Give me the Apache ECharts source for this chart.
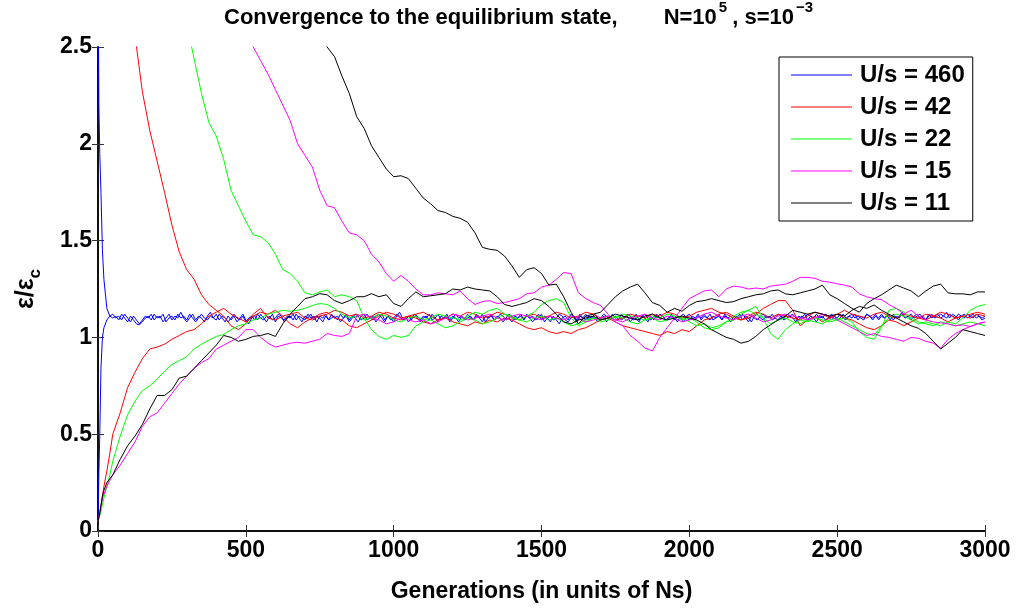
<!DOCTYPE html>
<html>
<head>
<meta charset="utf-8">
<script src="https://cdn.jsdelivr.net/npm/echarts@6/dist/echarts.min.js"></script>
<style>html,body{margin:0;padding:0;background:#fff}#c{width:1016px;height:608px}</style>
</head>
<body>
<div id="c"></div>
<script>
// generations (x values) for the red, green, magenta, black runs
const GENS_EARLY = [0, 3, 6, 10, 15, 20, 30, 40, 50];
const GENS_MAIN = [
  75,100,125,150,175,200,225,250,275,300,
  325,350,375,400,425,450,475,500,525,550,
  575,600,625,650,675,700,725,750,775,800,
  825,850,875,900,925,950,975,1000,1025,1050,
  1075,1100,1125,1150,1175,1200,1225,1250,1275,1300,
  1325,1350,1375,1400,1425,1450,1475,1500,1525,1550,
  1575,1600,1625,1650,1675,1700,1725,1750,1775,1800,
  1825,1850,1875,1900,1925,1950,1975,2000,2025,2050,
  2075,2100,2125,2150,2175,2200,2225,2250,2275,2300,
  2325,2350,2375,2400,2425,2450,2475,2500,2525,2550,
  2575,2600,2625,2650,2675,2700,2725,2750,2775,2800,
  2825,2850,2875,2900,2925,2950,2975,3000
];
const GENS = GENS_EARLY.concat(GENS_MAIN);

// generations for the blue (U/s = 460) runs: dense, every 10 after the start
const BLUE_GENS_EARLY = [0, 3, 6, 10, 15, 20, 30, 40];
const BLUE_GENS_STEP = 10;   // 50, 60, ... 3000
const BLUE_GENS = BLUE_GENS_EARLY.concat(Array.from({ length: 296 }, (_, i) => 50 + i * BLUE_GENS_STEP));

const X_TICKS = [0, 500, 1000, 1500, 2000, 2500, 3000];
const Y_TICKS = [0, 0.5, 1, 1.5, 2, 2.5];

const LEGEND_NAMES = ['U/s = 460', 'U/s = 42', 'U/s = 22', 'U/s = 15', 'U/s = 11'];

// U/s = 460 (blue), started above and below
const BLUE_HIGH = [
  3.0,2.2,1.95,1.75,1.45,1.30,1.15,1.11,
  1.10,1.11,1.09,1.12,1.10,1.08,1.11,1.09,1.07,1.065,
  1.08,1.10,1.11,1.09,1.12,1.10,1.11,1.08,1.10,1.12,
  1.09,1.11,1.10,1.13,1.10,1.08,1.10,1.12,1.09,1.11,
  1.10,1.08,1.11,1.13,1.10,1.09,1.12,1.10,1.08,1.11,
  1.09,1.11,1.08,1.10,1.12,1.09,1.07,1.10,1.11,1.09,
  1.12,1.10,1.08,1.11,1.09,1.10,1.12,1.11,1.08,1.10,
  1.11,1.09,1.12,1.10,1.08,1.11,1.10,1.12,1.09,1.11,
  1.10,1.08,1.11,1.09,1.12,1.10,1.11,1.08,1.10,1.12,
  1.09,1.11,1.10,1.08,1.11,1.12,1.09,1.10,1.11,1.08,
  1.10,1.12,1.09,1.11,1.10,1.08,1.11,1.13,1.10,1.09,
  1.11,1.09,1.12,1.10,1.08,1.10,1.11,1.09,1.12,1.10,
  1.08,1.11,1.10,1.12,1.09,1.11,1.10,1.08,1.11,1.09,
  1.12,1.10,1.09,1.11,1.10,1.12,1.08,1.10,1.11,1.09,
  1.10,1.12,1.11,1.09,1.10,1.08,1.11,1.10,1.12,1.09,
  1.11,1.10,1.08,1.10,1.12,1.09,1.11,1.10,1.08,1.11,
  1.09,1.07,1.10,1.11,1.09,1.12,1.10,1.08,1.11,1.10,
  1.12,1.09,1.11,1.10,1.08,1.10,1.12,1.11,1.09,1.10,
  1.11,1.09,1.12,1.10,1.11,1.08,1.10,1.12,1.09,1.11,
  1.10,1.08,1.11,1.09,1.12,1.10,1.11,1.09,1.10,1.12,
  1.09,1.11,1.10,1.08,1.11,1.12,1.10,1.09,1.11,1.10,
  1.12,1.10,1.09,1.11,1.10,1.12,1.09,1.11,1.10,1.08,
  1.11,1.10,1.12,1.09,1.11,1.10,1.08,1.11,1.12,1.10,
  1.09,1.11,1.10,1.12,1.10,1.09,1.11,1.10,1.12,1.11,
  1.10,1.08,1.11,1.10,1.12,1.09,1.11,1.10,1.12,1.10,
  1.11,1.09,1.10,1.12,1.11,1.09,1.10,1.12,1.10,1.11,
  1.10,1.12,1.09,1.11,1.10,1.12,1.11,1.09,1.11,1.10,
  1.12,1.10,1.11,1.09,1.12,1.10,1.11,1.13,1.10,1.11,
  1.09,1.11,1.12,1.10,1.11,1.09,1.12,1.10,1.11,1.12,
  1.10,1.11,1.13,1.10,1.12,1.11,1.09,1.11,1.12,1.10,
  1.11,1.12,1.10,1.11,1.09,1.10
];
const BLUE_LOW = [
  0.05,0.30,0.50,0.84,1.00,1.05,1.09,1.11,
  1.12,1.10,1.11,1.09,1.12,1.10,1.08,1.11,1.09,1.07,
  1.09,1.11,1.10,1.12,1.09,1.11,1.10,1.12,1.08,1.10,
  1.11,1.09,1.12,1.10,1.11,1.09,1.12,1.10,1.08,1.10,
  1.12,1.10,1.09,1.11,1.10,1.12,1.09,1.11,1.10,1.08,
  1.10,1.12,1.10,1.09,1.11,1.08,1.10,1.11,1.09,1.12,
  1.10,1.09,1.11,1.10,1.12,1.08,1.11,1.10,1.09,1.11,
  1.10,1.12,1.09,1.11,1.10,1.09,1.12,1.10,1.11,1.08,
  1.11,1.10,1.12,1.09,1.10,1.11,1.09,1.12,1.10,1.11,
  1.08,1.10,1.12,1.11,1.09,1.10,1.12,1.10,1.09,1.11,
  1.12,1.10,1.08,1.11,1.09,1.10,1.12,1.11,1.09,1.10,
  1.08,1.10,1.12,1.11,1.09,1.11,1.10,1.12,1.09,1.10,
  1.12,1.09,1.10,1.11,1.08,1.10,1.12,1.10,1.11,1.09,
  1.10,1.11,1.09,1.12,1.10,1.08,1.11,1.10,1.12,1.09,
  1.11,1.10,1.08,1.10,1.12,1.11,1.09,1.10,1.11,1.09,
  1.12,1.10,1.11,1.09,1.10,1.12,1.08,1.10,1.11,1.09,
  1.10,1.12,1.11,1.09,1.08,1.10,1.11,1.09,1.12,1.10,
  1.09,1.11,1.10,1.12,1.10,1.09,1.11,1.08,1.10,1.12,
  1.10,1.11,1.09,1.10,1.12,1.11,1.09,1.10,1.08,1.11,
  1.12,1.10,1.09,1.11,1.10,1.12,1.11,1.09,1.10,1.11,
  1.10,1.08,1.11,1.12,1.10,1.09,1.11,1.10,1.12,1.09,
  1.11,1.10,1.12,1.09,1.10,1.11,1.09,1.12,1.10,1.11,
  1.09,1.11,1.10,1.12,1.10,1.08,1.11,1.10,1.09,1.11,
  1.12,1.10,1.11,1.09,1.10,1.12,1.11,1.09,1.10,1.11,
  1.12,1.10,1.09,1.11,1.10,1.12,1.11,1.10,1.08,1.11,
  1.10,1.12,1.11,1.09,1.11,1.10,1.12,1.10,1.09,1.11,
  1.12,1.10,1.11,1.10,1.09,1.12,1.11,1.10,1.12,1.09,
  1.11,1.10,1.12,1.11,1.09,1.11,1.10,1.12,1.10,1.11,
  1.12,1.10,1.11,1.12,1.10,1.09,1.11,1.12,1.10,1.11,
  1.12,1.11,1.10,1.12,1.11,1.10,1.12,1.11,1.10,1.12,
  1.11,1.10,1.12,1.11,1.10,1.11
];
// U/s = 42 (red)
const RED_HIGH = [
  5.2,5.0,4.9,4.7,4.5,4.3,4.0,3.8,3.6,
  3.2,2.85,2.56,2.27,2.07,1.91,1.75,1.58,1.44,1.35,
  1.30,1.22,1.17,1.14,1.11,1.06,1.04,1.07,1.12,1.15,
  1.10,1.09,1.11,1.07,1.05,1.08,1.10,1.12,1.13,1.10,
  1.09,1.06,1.05,1.07,1.09,1.11,1.13,1.12,1.10,1.11,
  1.12,1.13,1.11,1.09,1.10,1.12,1.11,1.13,1.12,1.10,
  1.11,1.13,1.12,1.10,1.09,1.11,1.12,1.10,1.11,1.13,
  1.12,1.10,1.11,1.13,1.12,1.10,1.11,1.09,1.10,1.12,
  1.11,1.10,1.12,1.11,1.13,1.12,1.10,1.11,1.13,1.14,
  1.15,1.13,1.12,1.10,1.09,1.11,1.13,1.12,1.10,1.12,
  1.11,1.10,1.09,1.11,1.13,1.12,1.10,1.12,1.14,1.12,
  1.11,1.10,1.12,1.13,1.11,1.10,1.12,1.11,1.10,1.12,
  1.11,1.13,1.12,1.10,1.11,1.12,1.13,1.12
];
const RED_LOW = [
  0.05,0.07,0.09,0.13,0.18,0.23,0.31,0.40,0.50,
  0.61,0.74,0.82,0.89,0.94,0.95,0.965,0.99,1.01,1.03,
  1.04,1.07,1.11,1.13,1.15,1.12,1.10,1.08,1.11,1.13,
  1.12,1.14,1.11,1.12,1.13,1.10,1.09,1.11,1.12,1.14,
  1.13,1.11,1.12,1.10,1.11,1.13,1.12,1.10,1.09,1.11,
  1.10,1.08,1.07,1.09,1.10,1.08,1.07,1.06,1.08,1.07,
  1.09,1.08,1.10,1.09,1.07,1.05,1.04,1.05,1.03,1.02,
  1.03,1.02,1.04,1.05,1.07,1.09,1.10,1.08,1.06,1.05,
  1.04,1.03,1.02,1.01,1.03,1.02,1.04,1.03,1.06,1.09,
  1.10,1.12,1.13,1.11,1.09,1.10,1.12,1.15,1.17,1.19,
  1.19,1.14,1.06,1.09,1.11,1.08,1.10,1.12,1.10,1.09,
  1.07,1.05,1.04,1.06,1.09,1.08,1.06,1.08,1.10,1.09,
  1.11,1.10,1.08,1.10,1.11,1.10,1.12,1.11
];
// U/s = 22 (green)
const GREEN_HIGH = [
  5.0,5.0,4.98,4.95,4.9,4.85,4.75,4.65,4.55,
  4.35,4.15,3.95,3.75,3.55,3.35,3.15,2.97,2.80,2.62,
  2.44,2.26,2.11,2.04,1.92,1.76,1.68,1.60,1.53,1.52,
  1.49,1.43,1.35,1.33,1.29,1.23,1.22,1.235,1.245,1.21,
  1.22,1.21,1.19,1.10,1.04,1.005,0.99,1.01,1.00,1.01,
  1.06,1.08,1.09,1.07,1.05,1.06,1.08,1.10,1.09,1.07,
  1.08,1.10,1.12,1.11,1.09,1.08,1.10,1.11,1.09,1.10,
  1.08,1.06,1.07,1.09,1.10,1.08,1.09,1.11,1.10,1.08,
  1.07,1.09,1.10,1.08,1.09,1.11,1.10,1.08,1.06,1.07,
  1.05,1.06,1.08,1.09,1.12,1.14,1.16,1.10,1.02,0.99,
  1.04,1.07,1.09,1.08,1.10,1.09,1.08,1.09,1.10,1.08,
  1.03,1.00,0.99,1.05,1.14,1.15,1.13,1.10,1.08,1.07,
  1.06,1.08,1.07,1.06,1.07,1.08,1.07,1.06
];
const GREEN_LOW = [
  0.05,0.06,0.08,0.10,0.14,0.17,0.23,0.29,0.36,
  0.49,0.60,0.67,0.725,0.75,0.785,0.825,0.86,0.88,0.90,
  0.94,0.965,0.985,1.005,1.015,1.04,1.06,1.07,1.09,1.10,
  1.12,1.13,1.14,1.135,1.14,1.15,1.165,1.175,1.17,1.15,
  1.12,1.10,1.11,1.09,1.10,1.12,1.11,1.09,1.08,1.10,
  1.11,1.09,1.10,1.12,1.11,1.10,1.09,1.11,1.13,1.12,
  1.14,1.15,1.12,1.10,1.09,1.11,1.13,1.17,1.19,1.20,
  1.18,1.10,1.06,1.08,1.10,1.09,1.11,1.10,1.12,1.11,
  1.10,1.09,1.11,1.10,1.12,1.11,1.09,1.10,1.08,1.05,
  1.04,1.05,1.08,1.11,1.13,1.14,1.12,1.10,1.07,1.09,
  1.10,1.08,1.07,1.09,1.08,1.07,1.09,1.10,1.08,1.06,
  1.04,1.02,1.01,1.06,1.10,1.12,1.11,1.09,1.07,1.08,
  1.07,1.06,1.08,1.07,1.10,1.14,1.16,1.17
];
// U/s = 15 (magenta)
const MAGENTA_HIGH = [
  4.17,4.16,4.15,4.14,4.13,4.11,4.08,4.05,4.02,
  3.94,3.86,3.78,3.70,3.62,3.54,3.46,3.38,3.30,3.22,
  3.14,3.06,2.98,2.90,2.82,2.74,2.66,2.58,2.50,2.43,
  2.36,2.28,2.20,2.12,2.00,1.94,1.88,1.76,1.68,1.67,
  1.60,1.54,1.53,1.50,1.43,1.39,1.33,1.29,1.32,1.29,
  1.25,1.22,1.22,1.23,1.225,1.22,1.24,1.20,1.17,1.185,
  1.19,1.175,1.18,1.19,1.20,1.225,1.23,1.26,1.27,1.30,
  1.335,1.33,1.23,1.20,1.18,1.165,1.12,1.08,1.06,1.01,
  0.98,0.945,0.93,1.00,1.05,1.10,1.15,1.20,1.22,1.24,
  1.245,1.21,1.25,1.265,1.26,1.25,1.255,1.25,1.265,1.27,
  1.275,1.29,1.31,1.31,1.305,1.29,1.285,1.277,1.27,1.26,
  1.225,1.21,1.20,1.195,1.17,1.15,1.12,1.14,1.11,1.09,
  1.08,1.075,1.07,1.06,1.065,1.056,1.07,1.08
];
const MAGENTA_LOW = [
  0.05,0.07,0.10,0.13,0.17,0.19,0.23,0.26,0.29,
  0.34,0.40,0.46,0.54,0.59,0.61,0.66,0.71,0.76,0.80,
  0.84,0.87,0.89,0.94,0.96,0.98,1.00,1.04,1.04,1.00,
  0.97,0.95,0.96,0.97,0.975,0.97,0.98,0.99,1.02,1.01,
  1.005,1.02,1.11,1.12,1.10,1.09,1.07,1.08,1.10,1.09,
  1.08,1.09,1.07,1.08,1.10,1.12,1.11,1.09,1.10,1.11,
  1.12,1.10,1.09,1.11,1.12,1.11,1.10,1.09,1.11,1.10,
  1.09,1.11,1.10,1.08,1.09,1.10,1.11,1.09,1.08,1.10,
  1.11,1.12,1.10,1.09,1.11,1.10,1.08,1.09,1.10,1.12,
  1.13,1.11,1.10,1.09,1.11,1.12,1.10,1.08,1.09,1.11,
  1.12,1.11,1.10,1.09,1.10,1.12,1.11,1.09,1.07,1.05,
  1.03,1.01,1.02,1.005,1.00,0.99,0.98,1.00,0.995,0.98,
  0.97,0.945,0.99,1.02,1.04,1.056,1.07,1.08
];
// U/s = 11 (black)
const BLACK_HIGH = [
  4.83,4.82,4.81,4.80,4.78,4.77,4.74,4.71,4.68,
  4.60,4.53,4.45,4.38,4.30,4.23,4.15,4.08,4.00,3.93,
  3.85,3.78,3.70,3.63,3.55,3.48,3.40,3.33,3.25,3.18,
  3.10,3.03,2.95,2.88,2.80,2.73,2.65,2.57,2.50,2.45,
  2.35,2.26,2.14,2.08,1.99,1.93,1.87,1.83,1.835,1.82,
  1.77,1.72,1.69,1.655,1.645,1.625,1.615,1.595,1.54,1.465,
  1.455,1.45,1.42,1.37,1.31,1.35,1.36,1.33,1.27,1.275,
  1.21,1.13,1.07,1.11,1.12,1.13,1.17,1.21,1.24,1.26,
  1.275,1.23,1.18,1.165,1.13,1.15,1.135,1.165,1.185,1.19,
  1.20,1.19,1.18,1.185,1.20,1.21,1.22,1.225,1.24,1.245,
  1.225,1.22,1.23,1.24,1.25,1.27,1.22,1.20,1.175,1.15,
  1.13,1.175,1.20,1.22,1.245,1.27,1.255,1.24,1.21,1.24,
  1.265,1.275,1.23,1.225,1.225,1.22,1.235,1.235
];
const BLACK_LOW = [
  0.05,0.07,0.09,0.13,0.18,0.21,0.25,0.27,0.29,
  0.37,0.44,0.49,0.55,0.63,0.70,0.70,0.73,0.79,0.80,
  0.84,0.88,0.92,0.96,1.01,1.00,0.98,0.99,1.005,1.01,
  1.02,1.005,1.07,1.12,1.16,1.20,1.21,1.226,1.22,1.19,
  1.175,1.19,1.21,1.21,1.226,1.21,1.22,1.175,1.16,1.20,
  1.235,1.21,1.215,1.22,1.226,1.25,1.245,1.26,1.25,1.245,
  1.24,1.21,1.17,1.16,1.17,1.18,1.20,1.19,1.16,1.12,
  1.08,1.07,1.09,1.10,1.11,1.09,1.10,1.12,1.11,1.10,
  1.09,1.11,1.12,1.10,1.09,1.10,1.11,1.10,1.09,1.07,
  1.04,1.02,1.00,0.99,0.97,0.98,1.005,1.04,1.065,1.09,
  1.11,1.14,1.13,1.12,1.13,1.12,1.11,1.12,1.11,1.14,
  1.16,1.15,1.167,1.14,1.12,1.10,1.08,1.06,1.047,1.02,
  0.98,0.94,0.97,1.00,1.04,1.03,1.02,1.01
];

const COLORS = ['#0000ff', '#ff0000', '#00ff00', '#ff00ff', '#000000'];
const RUNS = [
  [BLUE_GENS, BLUE_HIGH, BLUE_LOW],
  [GENS, RED_HIGH, RED_LOW],
  [GENS, GREEN_HIGH, GREEN_LOW],
  [GENS, MAGENTA_HIGH, MAGENTA_LOW],
  [GENS, BLACK_HIGH, BLACK_LOW]
];

const FONT = "'Liberation Sans', Arial, Helvetica, sans-serif";

const series = [];
RUNS.forEach((run, k) => {
  const gens = run[0];
  [run[1], run[2]].forEach(vals => {
    series.push({
      type: 'line',
      name: LEGEND_NAMES[k],
      data: gens.map((g, i) => [g, vals[i]]),
      showSymbol: false,
      symbol: 'none',
      clip: true,
      lineStyle: { width: 1, color: COLORS[k] },
      itemStyle: { color: COLORS[k] },
      emphasis: { disabled: true },
      animation: false
    });
  });
});

const chart = echarts.init(document.getElementById('c'), null, { renderer: 'canvas' });
const axisCommon = {
  axisLine: { show: true, lineStyle: { color: '#000', width: 1.5 } },
  axisTick: { show: true, inside: true, length: 6, lineStyle: { color: '#333', width: 1 } },
  splitLine: { show: false }
};
const titleMain = { fontFamily: FONT, fontWeight: 'bold', fontSize: 22, color: '#000', lineHeight: 36, verticalAlign: 'middle' };
const titleSup = { fontFamily: FONT, fontWeight: 'bold', fontSize: 15, color: '#000', lineHeight: 15, verticalAlign: 'top', padding: [0, 5, 0, 2] };
chart.setOption({
  backgroundColor: '#fff',
  animation: false,
  title: {
    left: 224,
    top: 0,
    padding: 0,
    text: '{a|Convergence to the equilibrium state,}{n|N=10}{s|5}{a|, s=10}{s|\u22123}',
    textStyle: {
      rich: {
        a: titleMain,
        n: Object.assign({}, titleMain, { padding: [0, 0, 0, 46] }),
        s: titleSup
      }
    }
  },
  legend: {
    data: LEGEND_NAMES,
    orient: 'vertical',
    left: 779,
    top: 57,
    icon: 'rect',
    itemWidth: 61,
    itemHeight: 1,
    itemGap: 8,
    padding: [6, 8, 6, 12],
    backgroundColor: '#fff',
    borderColor: '#000',
    borderWidth: 1,
    selectedMode: false,
    textStyle: { fontFamily: FONT, fontWeight: 'bold', fontSize: 24, color: '#000', lineHeight: 24, padding: [0, 0, 0, 3] }
  },
  grid: { left: 98, top: 47, width: 887, height: 490, show: false },
  xAxis: [
    Object.assign({
      type: 'value', min: 0, max: 3000, interval: 500, position: 'bottom',
      axisLabel: { show: true, margin: 8, fontFamily: FONT, fontWeight: 'bold', fontSize: 23, color: '#000',
        formatter: v => X_TICKS.includes(v) ? String(v) : '' },
      name: 'Generations (in units of Ns)',
      nameLocation: 'middle',
      nameGap: 49,
      nameTextStyle: { fontFamily: FONT, fontWeight: 'bold', fontSize: 23, color: '#000' }
    }, axisCommon),
    Object.assign({
      type: 'value', min: 0, max: 3000, interval: 500, position: 'top',
      axisLabel: { show: false }
    }, axisCommon)
  ],
  yAxis: [
    Object.assign({
      type: 'value', min: 0, max: 2.5, interval: 0.5, position: 'left',
      axisLabel: { show: true, margin: 6, fontFamily: FONT, fontWeight: 'bold', fontSize: 23, color: '#000',
        formatter: v => Y_TICKS.includes(v) ? String(v) : '' },
      name: '{e|\u03b5/\u03b5}{c|c}',
      nameLocation: 'middle',
      nameRotate: 90,
      nameGap: 54,
      nameTextStyle: {
        rich: {
          e: { fontFamily: FONT, fontWeight: 'bold', fontSize: 25, color: '#000', lineHeight: 36, verticalAlign: 'middle' },
          c: { fontFamily: FONT, fontWeight: 'bold', fontSize: 17, color: '#000', lineHeight: 17, verticalAlign: 'bottom' }
        }
      }
    }, axisCommon),
    Object.assign({
      type: 'value', min: 0, max: 2.5, interval: 0.5, position: 'right',
      axisLabel: { show: false }
    }, axisCommon)
  ],
  series: series
});
</script>
</body>
</html>
